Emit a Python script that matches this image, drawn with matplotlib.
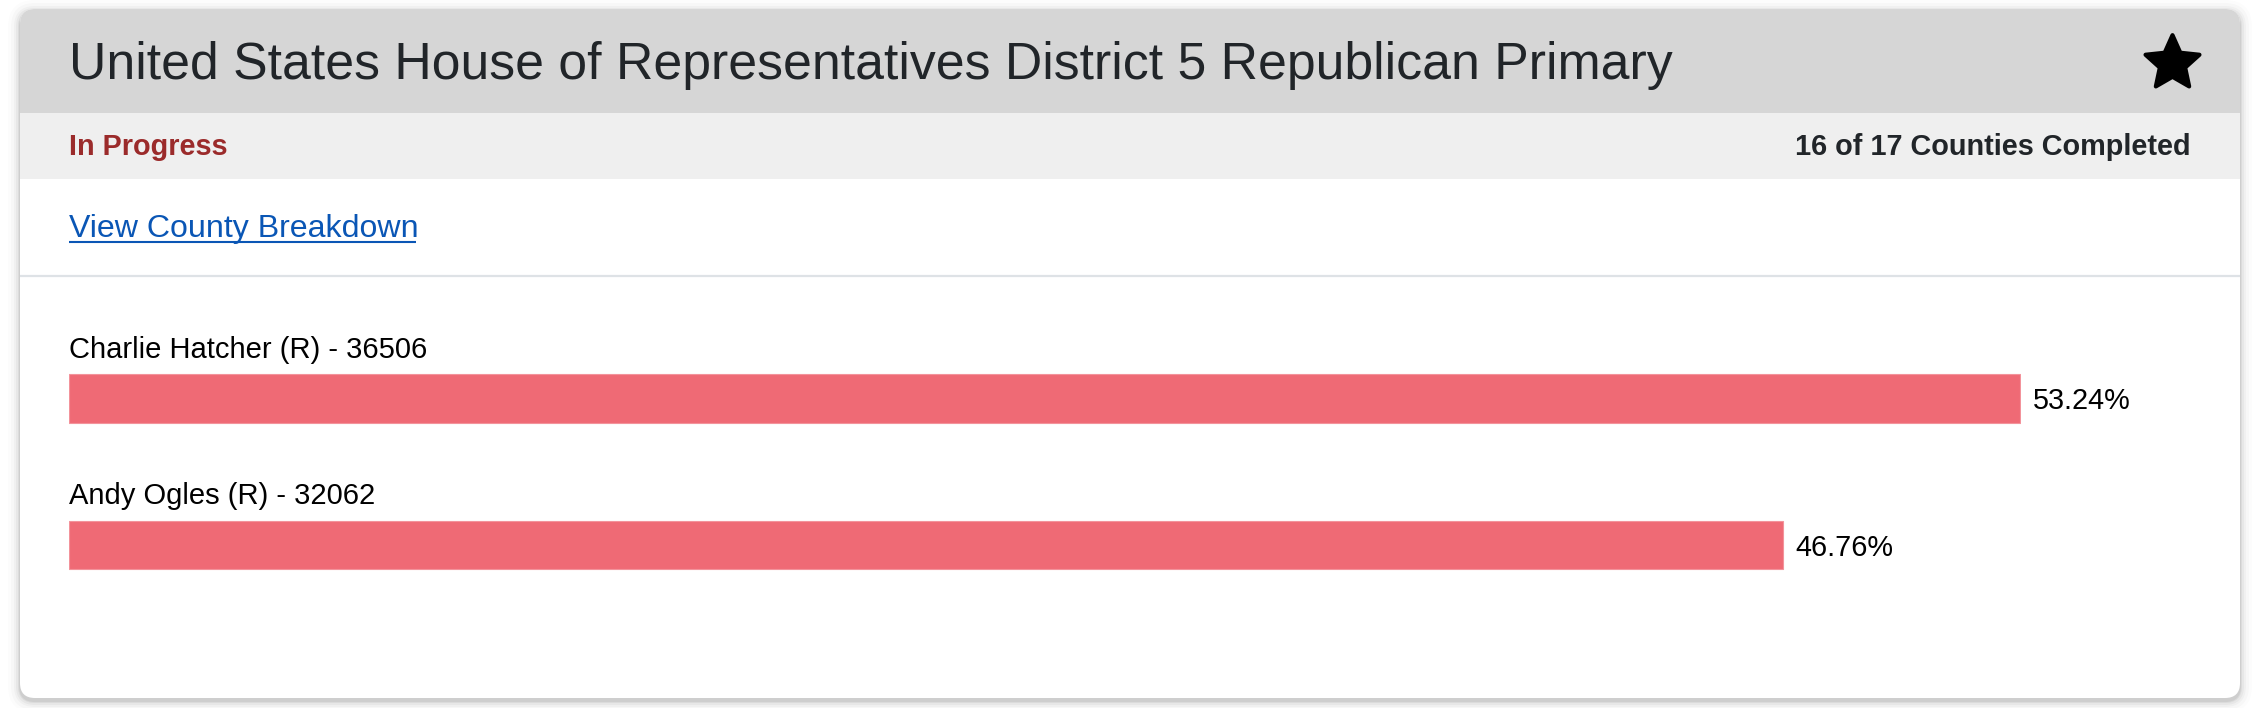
import matplotlib
matplotlib.use("Agg")
import matplotlib.pyplot as plt
from matplotlib.patches import FancyBboxPatch, Rectangle
from matplotlib.path import Path
from matplotlib.textpath import TextPath
from matplotlib.font_manager import FontProperties

# ---------------- data ----------------
title = "United States House of Representatives District 5 Republican Primary"
status = "In Progress"
progress = "16 of 17 Counties Completed"
link_text = "View County Breakdown"
candidates = ["Charlie Hatcher", "Andy Ogles"]
parties = ["R", "R"]
votes = [36506, 32062]
percents = [53.24, 46.76]

# ---------------- layout / style ----------------
W, H = 2256, 708
DPI = 100
FONT = "Liberation Sans"
plt.rcParams['font.family'] = [FONT, 'DejaVu Sans']
PT = 72.0 / DPI  # points per pixel

TEXT_DARK = '#212529'
BAR_COLOR = '#ef6a75'

fig = plt.figure(figsize=(W / DPI, H / DPI), dpi=DPI)
fig.patch.set_facecolor('white')
bg = fig.add_axes([0, 0, 1, 1])
bg.set_xlim(0, W)
bg.set_ylim(H, 0)
bg.axis('off')

cx0, cy0, cx1, cy1 = 20, 9, 2240, 698
R = 15

# soft shadow
for grow, a in [(12, 0.012), (9, 0.018), (6, 0.026), (4, 0.035), (2, 0.05), (1, 0.06)]:
    sh = FancyBboxPatch((cx0 - grow, cy0 - grow + 3), (cx1 - cx0) + 2 * grow,
                        (cy1 - cy0) + 2 * grow,
                        boxstyle=f"round,pad=0,rounding_size={R + grow}",
                        fc='black', ec='none', alpha=a)
    bg.add_patch(sh)

card = FancyBboxPatch((cx0, cy0), cx1 - cx0, cy1 - cy0,
                      boxstyle=f"round,pad=0,rounding_size={R}",
                      fc='white', ec='none')
bg.add_patch(card)

hdr = Rectangle((cx0, cy0), cx1 - cx0, 113 - cy0, fc='#d6d6d6', ec='none')
bg.add_patch(hdr)
hdr.set_clip_path(card)
stat = Rectangle((cx0, 113), cx1 - cx0, 179 - 113, fc='#efefef', ec='none')
bg.add_patch(stat)
stat.set_clip_path(card)
bg.plot([cx0, cx1], [275.5, 275.5], color='#dee2e6', lw=1.6, solid_capstyle='butt')

# title
bg.text(69, 79, title, fontsize=37.3, color=TEXT_DARK, va='baseline', ha='left')

# star
star = Path.unit_regular_star(5, innerCircle=0.47)
bg.plot([2172], [63.4], marker=star, ms=40.8, color='black', mec='black', mew=3,
        linestyle='none', solid_joinstyle='round')

# status row
bg.text(69, 155, status, fontsize=20.8, fontweight='bold', color='#9b2b2b',
        va='baseline', ha='left')
bg.text(2191, 155, progress, fontsize=20.8, fontweight='bold', color=TEXT_DARK,
        va='baseline', ha='right')

# link
link_fs = 23.1
bg.text(69, 237, link_text, fontsize=link_fs, color='#0a56b5', va='baseline', ha='left')
tp = TextPath((0, 0), link_text, size=link_fs, prop=FontProperties(family=FONT))
ext = tp.get_extents()
w_px = (ext.x1) / PT
bg.plot([69, 69 + w_px], [241.5, 241.5], color='#0a56b5', lw=1.5, solid_capstyle='butt')

# ---------------- bars ----------------
spacing = 146.5
c0 = 398.5
top_px = c0 - spacing / 2
bot_px = c0 + spacing * (len(percents) - 1) + spacing / 2
left_px, right_px = 69, 2020.5
ax = fig.add_axes([left_px / W, 1 - bot_px / H, (right_px - left_px) / W, (bot_px - top_px) / H])
ax.set_xlim(0, max(percents))
ax.set_ylim(len(percents) - 0.5, -0.5)
ax.axis('off')

ypos = list(range(len(percents)))
ax.barh(ypos, percents, height=48.5 / spacing, color=BAR_COLOR, edgecolor='#f3939b', lw=0.8)

for i, (name, party, v, p) in enumerate(zip(candidates, parties, votes, percents)):
    ax.annotate(f"{name} ({party}) - {v}", xy=(0, i), xytext=(0, 40.5 * PT),
                textcoords='offset points', fontsize=21, color='black',
                va='baseline', ha='left', annotation_clip=False)
    ax.annotate(f"{p:.2f}%", xy=(p, i), xytext=(12.5 * PT, -10.5 * PT),
                textcoords='offset points', fontsize=20.8, color='black',
                va='baseline', ha='left', annotation_clip=False)

fig.savefig('out.png', dpi=DPI, facecolor='white')
